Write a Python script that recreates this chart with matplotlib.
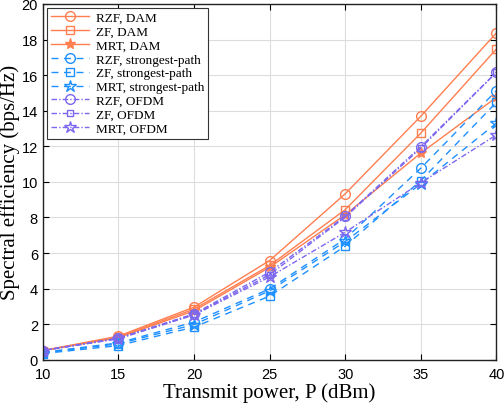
import numpy as np
import matplotlib.pyplot as plt

power = [10, 15, 20, 25, 30, 35, 40]

rzf_dam = [0.52, 1.33, 2.96, 5.58, 9.33, 13.69, 18.37]
zf_dam = [0.52, 1.28, 2.85, 5.3, 8.44, 12.74, 17.47]
mrt_dam = [0.52, 1.25, 2.75, 5.2, 8.15, 11.62, 14.75]
rzf_sp = [0.42, 0.95, 2.12, 3.99, 6.8, 10.77, 15.13]
zf_sp = [0.35, 0.8, 1.84, 3.58, 6.39, 10.07, 14.47]
mrt_sp = [0.38, 0.9, 1.98, 3.88, 6.65, 9.89, 13.3]
rzf_ofdm = [0.52, 1.22, 2.58, 4.93, 8.07, 11.98, 16.16]
zf_ofdm = [0.52, 1.2, 2.55, 4.78, 8.02, 11.9, 16.16]
mrt_ofdm = [0.52, 1.18, 2.52, 4.66, 7.17, 9.95, 12.64]

orange = '#FF7F50'
blue = '#1E90FF'
purple = '#7B68EE'

plt.rcParams['xtick.direction'] = 'in'
plt.rcParams['ytick.direction'] = 'in'

fig, ax = plt.subplots(figsize=(5.04, 4.10), dpi=100)
fig.subplots_adjust(left=0.085, right=0.985, top=0.988, bottom=0.12)

dash = (0, (5, 4))
dashdot = (0, (4, 1.5, 1, 1.5))

ax.plot(power, rzf_dam, color=orange, ls='-', lw=1.0, marker='o', mfc='none', ms=7, label='RZF, DAM')
ax.plot(power, zf_dam, color=orange, ls='-', lw=1.0, marker='s', mfc='none', ms=6, label='ZF, DAM')
ax.plot(power, mrt_dam, color=orange, ls='-', lw=1.0, marker='*', ms=8, label='MRT, DAM')
ax.plot(power, rzf_sp, color=blue, ls=dash, lw=1.0, marker='o', mfc='none', ms=7, label='RZF, strongest-path')
ax.plot(power, zf_sp, color=blue, ls=dash, lw=1.0, marker='s', mfc='none', ms=6, label='ZF, strongest-path')
ax.plot(power, mrt_sp, color=blue, ls=dash, lw=1.0, marker='*', mfc='none', ms=9, label='MRT, strongest-path')
ax.plot(power, rzf_ofdm, color=purple, ls=dashdot, lw=1.0, marker='o', mfc='none', ms=7, label='RZF, OFDM')
ax.plot(power, zf_ofdm, color=purple, ls=dashdot, lw=1.0, marker='s', mfc='none', ms=5, label='ZF, OFDM')
ax.plot(power, mrt_ofdm, color=purple, ls=dashdot, lw=1.0, marker='*', mfc='none', ms=9, label='MRT, OFDM')

ax.set_xlim(10, 40)
ax.set_ylim(0, 20)
ax.set_xticks(power)
ax.set_yticks(np.arange(0, 21, 2))
ax.tick_params(top=True, right=True, labelsize=10.5, length=4, width=0.8)
ax.tick_params(axis='x', pad=5)
for lab in ax.get_xticklabels() + ax.get_yticklabels():
    lab.set_family('Liberation Sans')
ax.grid(True, color='#dddddd', lw=0.8)
ax.set_axisbelow(True)
for sp in ax.spines.values():
    sp.set_linewidth(1.0)
    sp.set_color('#222222')

ax.set_xlabel('Transmit power, P (dBm)', family='Liberation Serif', fontsize=15, labelpad=1)
ax.set_ylabel('Spectral efficiency (bps/Hz)', family='Liberation Serif', fontsize=15, labelpad=1)

leg = ax.legend(loc='upper left', prop={'family': 'Liberation Serif', 'size': 9.5},
                fancybox=False, edgecolor='#333333', framealpha=1, borderaxespad=0.3,
                handlelength=2.9, labelspacing=0.12, borderpad=0.3, handletextpad=0.5)
leg.get_frame().set_linewidth(0.8)

plt.savefig('out.png')
